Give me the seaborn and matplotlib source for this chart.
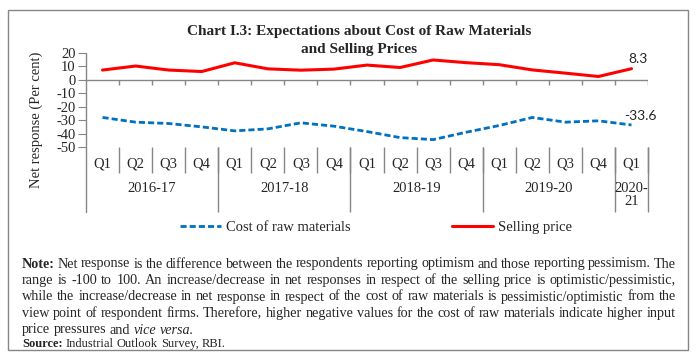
import matplotlib
matplotlib.use("Agg")
import pandas as pd
import matplotlib.pyplot as plt
import matplotlib.transforms as mtransforms
from matplotlib.patches import Rectangle
import seaborn as sns

# Data
QUARTERS = ["Q1", "Q2", "Q3", "Q4"] * 4 + ["Q1"]
YEARS = ["2016-17", "2017-18", "2018-19", "2019-20", "2020-\n21"]
YEAR_SPANS = [4, 4, 4, 4, 1]
COST_RAW = [-28.0, -31.5, -32.5, -35.0, -38.0, -36.5, -32.0, -34.5, -38.5, -43.0,
            -44.5, -39.0, -34.0, -28.0, -31.5, -30.5, -33.6]
SELLING = [7.3, 10.3, 7.3, 6.2, 12.7, 8.2, 7.2, 8.0, 11.0, 9.2,
           14.8, 12.8, 11.3, 7.4, 5.0, 2.5, 8.3]
YTICKS = [20, 10, 0, -10, -20, -30, -40, -50]

TITLE = ["Chart I.3: Expectations about Cost of Raw Materials", "and Selling Prices"]
NOTE_LINES = [
    "Note: Net response is the difference between the respondents reporting optimism and those reporting pessimism. The",
    "range is -100 to 100. An increase/decrease in net responses in respect of the selling price is optimistic/pessimistic,",
    "while the increase/decrease in net response in respect of the cost of raw materials is pessimistic/optimistic from the",
    "view point of respondent firms. Therefore, higher negative values for the cost of raw materials indicate higher input",
    "price pressures and vice versa.",
]
SOURCE = ["Source:", "Industrial Outlook Survey, RBI."]

W, H = 696, 364
GREY = "#868686"
BLUE = "#0070C0"
RED = "#FF0000"


def fx(px):
    return px / W


def fy(py):
    return 1 - py / H


def justified(fig, text, py, left, right, size, justify=True):
    """Place words one by one so the line fills left..right (pixels)."""
    r = fig.canvas.get_renderer()
    words = text.split(" ")
    arts = []
    for w in words:
        kw = {}
        if w in ("Note:", "Source:"):
            kw["fontweight"] = "bold"
        if w in ("vice", "versa."):
            kw["fontstyle"] = "italic"
        t = fig.text(0, fy(py), w, fontsize=size, ha="left", va="center", **kw)
        arts.append(t)
    widths = [a.get_window_extent(r).width for a in arts]
    if justify and len(words) > 1:
        gap = (right - left - sum(widths)) / (len(words) - 1)
    else:
        gap = size * 100 / 72 * 0.25
    x = left
    for a, wd in zip(arts, widths):
        a.set_x(fx(x))
        x += wd + gap


def main():
    sns.set_style("white")
    plt.rcParams["font.family"] = ["Liberation Serif", "DejaVu Serif"]
    plt.rcParams["axes.unicode_minus"] = False

    df = pd.DataFrame({
        "idx": list(range(len(QUARTERS))) * 2,
        "value": COST_RAW + SELLING,
        "series": ["Cost of raw materials"] * len(COST_RAW) + ["Selling price"] * len(SELLING),
    })

    fig = plt.figure(figsize=(W / 100, H / 100), dpi=100)
    ax = fig.add_axes([fx(86), fy(147), fx(562), 94 / H])

    cost = df[df["series"] == "Cost of raw materials"]
    sell = df[df["series"] == "Selling price"]
    sns.lineplot(data=cost, x="idx", y="value", ax=ax, color=BLUE, lw=2.0,
                 label="Cost of raw materials")
    sns.lineplot(data=sell, x="idx", y="value", ax=ax, color=RED, lw=2.2,
                 label="Selling price")
    ax.lines[0].set_dashes([2.2, 1.1])

    n = len(QUARTERS)
    ax.set_xlim(-0.5, n - 0.5)
    ax.set_ylim(-50, 20)
    ax.set_yticks(YTICKS)
    ax.set_yticklabels([str(v) for v in YTICKS], fontsize=10.5)
    ax.set_xticks([])
    ax.set_xlabel("")
    ax.set_ylabel("")
    for s in ax.spines.values():
        s.set_visible(False)
    ax.tick_params(axis="y", direction="out", length=6, width=0.8, color=GREY, pad=1.5, left=True)

    # zero line with small boundary ticks
    ax.axhline(0, color=GREY, lw=1)
    ax.vlines([i + 0.5 for i in range(n)], -3.7, 0, color=GREY, lw=1)

    # category axis below the plot
    tr = mtransforms.blended_transform_factory(ax.transData, ax.transAxes)
    ax.plot([-0.5, -0.5], [1, -0.69], color=GREY, lw=1, transform=tr, clip_on=False)
    ax.vlines([i + 0.5 for i in range(n)], -0.277, 0, color=GREY, lw=1, transform=tr, clip_on=False)
    bounds = [-0.5]
    for sp in YEAR_SPANS:
        bounds.append(bounds[-1] + sp)
    ax.vlines(bounds[1:], -0.69, 0, color=GREY, lw=1, transform=tr, clip_on=False)
    for i, q in enumerate(QUARTERS):
        ax.text(i, -0.18, q, transform=tr, ha="center", va="center", fontsize=10.5)
    for k, yr in enumerate(YEARS):
        c = (bounds[k] + bounds[k + 1]) / 2
        if "\n" in yr:
            ax.text(c, -0.37, yr, transform=tr, ha="center", va="top", fontsize=10.5,
                    linespacing=1.0)
        else:
            ax.text(c, -0.44, yr, transform=tr, ha="center", va="center", fontsize=10.5)

    # end labels
    ax.annotate(f"{SELLING[-1]:.1f}", (n - 1, SELLING[-1]), xytext=(7, 10),
                textcoords="offset pixels", ha="center", va="center",
                fontsize=10, family="Lato")
    ax.annotate(f"{COST_RAW[-1]:.1f}", (n - 1, COST_RAW[-1]), xytext=(9, 9),
                textcoords="offset pixels", ha="center", va="center",
                fontsize=10, family="Lato")

    ax.legend(loc="center", bbox_to_anchor=(fx(376), fy(227)),
              bbox_transform=fig.transFigure, ncol=2, frameon=False,
              fontsize=10.5, handlelength=2.8, handletextpad=0.35,
              columnspacing=7.0, borderaxespad=0)

    # titles and axis label
    for k, line in enumerate(TITLE):
        fig.text(fx(359), fy(32 + 17 * k), line, ha="center", va="center",
                 fontsize=11, fontweight="bold")
    fig.text(fx(36), fy(120), "Net response (Per cent)", rotation=90,
             ha="center", va="center", fontsize=10.5)

    # note block
    for k, line in enumerate(NOTE_LINES):
        justified(fig, line, 264 + 16.5 * k, 22, 676, 10.2,
                  justify=(k < len(NOTE_LINES) - 1))
    justified(fig, " ".join(SOURCE), 344, 22, 676, 9, justify=False)

    fig.patches.append(Rectangle((fx(8), fy(350)), fx(680), 340 / H,
                                 transform=fig.transFigure, fill=False,
                                 ec=GREY, lw=1))

    fig.savefig("out.png", dpi=100)
    plt.close(fig)


if __name__ == "__main__":
    main()
